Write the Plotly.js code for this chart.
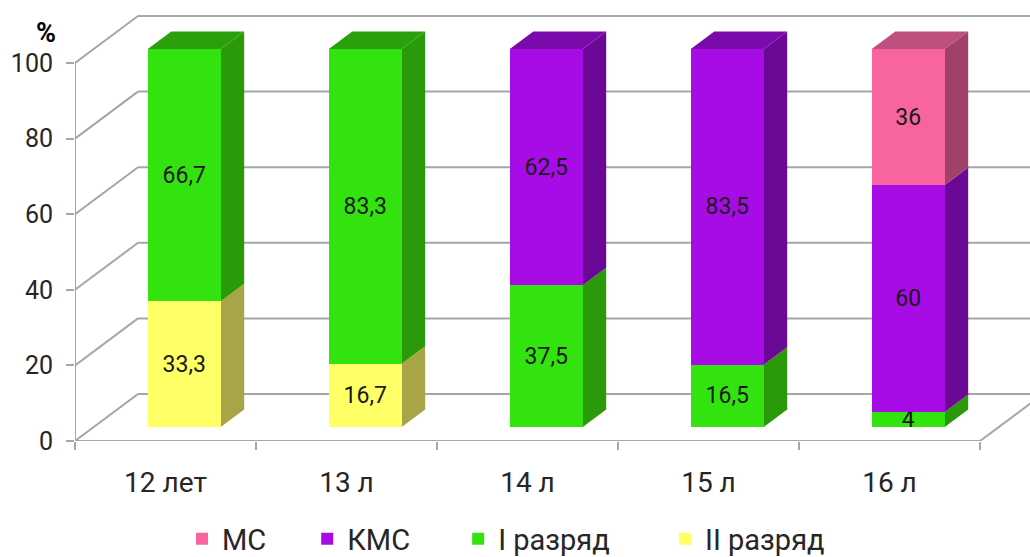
<!DOCTYPE html>
<html>
<head>
<meta charset="utf-8">
<script src="https://cdn.plot.ly/plotly-3.0.1.min.js"></script>
<style>html,body{margin:0;padding:0;background:#fff;}#chart{width:1030px;height:557px;}</style>
</head>
<body>
<div id="chart"></div>
<script>
// ---- data ----
const categories = ['12 лет', '13 л', '14 л', '15 л', '16 л'];
const seriesNames = ['II разряд', 'I разряд', 'КМС', 'МС'];
const valuesII  = [33.3, 16.7, 0, 0, 0];
const valuesI   = [66.7, 83.3, 37.5, 16.5, 4];
const valuesKMS = [0, 0, 62.5, 83.5, 60];
const valuesMS  = [0, 0, 0, 0, 36];
const yTickVals = [0, 20, 40, 60, 80, 100];
const yTickText = ['0', '20', '40', '60', '80', '100'];

// ---- styles ----
const FONT = 'Roboto, "Open Sans", sans-serif';
const frontColors = ['#FFFF66', '#33E30F', '#A80CE6', '#F8659E'];
const sideColors  = ['#A8A548', '#2A990A', '#6B0896', '#A0416A'];
const topColors   = ['#B8B450', '#2AA10B', '#7A0AAA', '#BF4F7E'];
const GRID = '#A6A6A6';
const TEXT = '#262626';
const legendPadCount = [0, 7, 6, 5]; // spacing after each legend entry

// geometry (pixels)
const W = 1030, H = 557;
const ML = 75, MB = 116, MT = 0, MR = 0;
const plotW = W - ML - MR, plotH = H - MB - MT;
const pxPerUnitY = 3.78, pxPerCat = 181;
const backDX = 63, backDY = 47;            // depth of the floor / wall
const barFrontDY = 14, barDepthDY = 17.5;  // bar placement in depth
const ratio = backDX / backDY;

const y2Range = [0, plotH / pxPerUnitY];
const yOff = barFrontDY / pxPerUnitY;
const yRange = [-yOff, -yOff + plotH / pxPerUnitY];
const x2Range = [-0.5, -0.5 + plotW / pxPerCat];
const xOff = barFrontDY * ratio / pxPerCat;
const xRange = [x2Range[0] - xOff, x2Range[1] - xOff];
const barW = 0.403;
const dX = barDepthDY * ratio / pxPerCat, dY = barDepthDY / pxPerUnitY;
const wallDX = backDX / pxPerCat, wallDY = backDY / pxPerUnitY;

const allSeries = [valuesII, valuesI, valuesKMS, valuesMS];
const xIdx = categories.map((c, i) => i);
const fmt = v => v ? String(v).replace('.', ',') : '';

const traces = [{
  type: 'scatter', mode: 'markers', x: categories, y: categories.map(() => 0),
  xaxis: 'x2', yaxis: 'y2', marker: {opacity: 0}, showlegend: false, hoverinfo: 'skip'
}];
allSeries.forEach((vals, s) => {
  traces.push({
    type: 'bar', name: seriesNames[s] + '\u00a0'.repeat(legendPadCount[s]), x: xIdx, y: vals, width: barW,
    marker: {color: frontColors[s], line: {width: 0}},
    text: vals.map(fmt), textposition: 'inside', insidetextanchor: 'middle',
    textangle: 0, constraintext: 'none',
    textfont: {family: FONT, size: 23, color: '#1a1a1a'},
    hoverinfo: 'skip'
  });
});

const shapes = [];
const line = (x0, y0, x1, y1) => shapes.push({type: 'line', xref: 'x2', yref: 'y2', x0, y0, x1, y1, layer: 'below', line: {color: GRID, width: 2}});
// back wall gridlines and left wall diagonals
yTickVals.forEach(v => {
  line(x2Range[0] + wallDX, v + wallDY, x2Range[1] + 1, v + wallDY);
  line(-0.5, v, -0.5 + wallDX, v + wallDY);
});
// floor front edge and right diagonal, front vertical axis
line(-0.5, 0, categories.length - 0.5, 0);
line(categories.length - 0.5, 0, categories.length - 0.5 + wallDX, wallDY);
line(-0.5, 0, -0.5, yTickVals[yTickVals.length - 1]);

// 3D side and top faces of bars
const poly = (pts, color) => shapes.push({
  type: 'path', xref: 'x', yref: 'y', layer: 'below', fillcolor: color, line: {width: 0},
  path: 'M' + pts.map(p => p[0] + ',' + p[1]).join('L') + 'Z'
});
xIdx.forEach(i => {
  let base = 0, topS = -1;
  const xl = i - barW / 2, xr = i + barW / 2;
  allSeries.forEach((vals, s) => {
    const v = vals[i];
    if (!v) return;
    poly([[xr, base], [xr + dX, base + dY], [xr + dX, base + v + dY], [xr, base + v]], sideColors[s]);
    base += v; topS = s;
  });
  if (topS >= 0) poly([[xl, base], [xl + dX, base + dY], [xr + dX, base + dY], [xr, base]], topColors[topS]);
});

const layout = {
  width: W, height: H,
  margin: {l: ML, r: MR, t: MT, b: MB, autoexpand: false},
  paper_bgcolor: '#fff', plot_bgcolor: 'rgba(0,0,0,0)',
  barmode: 'stack', hovermode: false,
  font: {family: FONT, size: 22, color: TEXT},
  xaxis: {range: xRange, visible: false, fixedrange: true},
  yaxis: {range: yRange, visible: false, fixedrange: true},
  xaxis2: {
    overlaying: 'x', anchor: 'y2', type: 'category', categoryorder: 'array', categoryarray: categories,
    range: x2Range, tickson: 'boundaries', ticks: 'outside', ticklen: 8, tickwidth: 2, tickcolor: GRID,
    showgrid: false, showline: false, zeroline: false, ticklabelstandoff: 22,
    tickfont: {family: FONT, size: 28, color: TEXT}
  },
  yaxis2: {
    overlaying: 'y', anchor: 'x2', range: y2Range, tickvals: yTickVals, ticktext: yTickText,
    ticks: 'outside', ticklen: 8, tickwidth: 2, tickcolor: GRID, showgrid: false, showline: false,
    zeroline: false, ticklabelstandoff: 8, tickfont: {family: FONT, size: 25, color: TEXT}
  },
  shapes: shapes,
  annotations: [{
    text: '<b>%</b>', xref: 'paper', yref: 'y2', x: (46 - ML) / plotW, y: (plotH - 33) / pxPerUnitY,
    showarrow: false, xanchor: 'center', yanchor: 'middle', font: {family: FONT, size: 27, color: '#000'}
  }],
  legend: {
    orientation: 'h', traceorder: 'reversed', x: (182 - ML) / plotW, xanchor: 'left',
    y: -(539 - plotH) / plotH, yanchor: 'middle', font: {family: FONT, size: 29, color: TEXT},
    bgcolor: 'rgba(0,0,0,0)'
  }
};

Plotly.newPlot('chart', traces, layout, {displayModeBar: false, staticPlot: true});
</script>
</body>
</html>
